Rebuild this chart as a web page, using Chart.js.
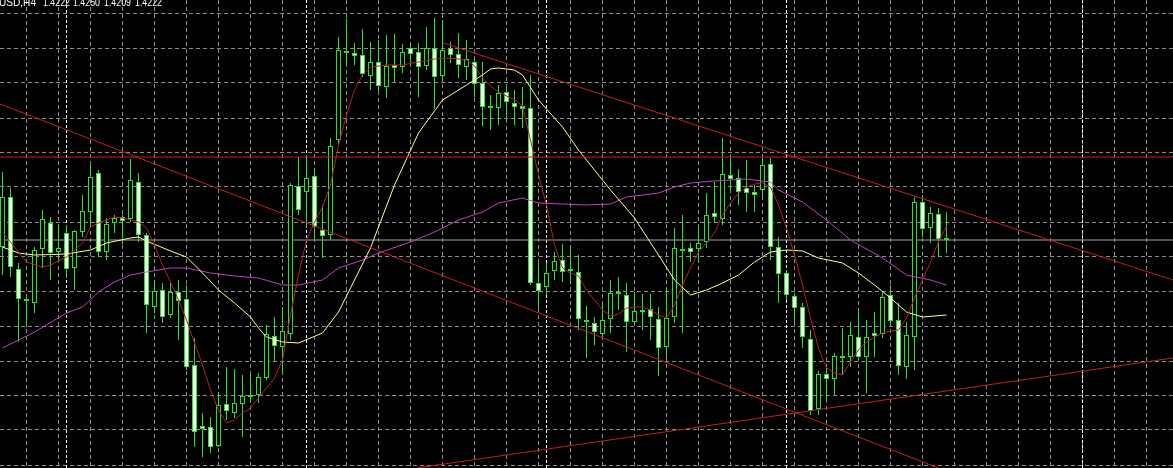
<!DOCTYPE html>
<html>
<head>
<meta charset="utf-8">
<script src="https://cdn.jsdelivr.net/npm/chart.js@4.4.0/dist/chart.umd.min.js"></script>
<style>
  html, body { margin: 0; padding: 0; background: #000; overflow: hidden; }
</style>
</head>
<body>
<canvas id="chart" width="1173" height="468"></canvas>
<script>
// H4 candles, oldest first
const opens = [1.4215,1.4265,1.4193,1.4161,1.4159,1.4213,1.4239,1.4210,1.4229,1.4194,
  1.4230,1.4250,1.4289,1.4210,1.4239,1.4245,1.4243,1.4280,1.4227,1.4155,
  1.4172,1.4147,1.4170,1.4163,1.4097,1.4036,1.4035,1.4016,1.4058,1.4049,
  1.4058,1.4067,1.4067,1.4084,1.4126,1.4115,1.4128,1.4276,1.4270,1.4286,
  1.4232,1.4227,1.4322,1.4409,1.4409,1.4407,1.4386,1.4400,1.4375,1.4397,
  1.4395,1.4414,1.4410,1.4396,1.4414,1.4386,1.4414,1.4408,1.4395,1.4400,
  1.4379,1.4355,1.4354,1.4370,1.4359,1.4356,1.4354,1.4179,1.4175,1.4191,
  1.4202,1.4191,1.4190,1.4141,1.4139,1.4128,1.4143,1.4170,1.4167,1.4140,
  1.4150,1.4153,1.4143,1.4115,1.4145,1.4212,1.4214,1.4213,1.4220,1.4249,
  1.4243,1.4287,1.4284,1.4274,1.4270,1.4272,1.4298,1.4215,1.4189,1.4166,
  1.4155,1.4123,1.4053,1.4088,1.4083,1.4105,1.4105,1.4125,1.4105,1.4129,
  1.4128,1.4167,1.4142,1.4095,1.4125,1.4260,1.4234,1.4248,1.4222];
const highs = [1.4290,1.4274,1.4199,1.4165,1.4215,1.4252,1.4245,1.4237,1.4237,1.4232,
  1.4267,1.4297,1.4292,1.4244,1.4247,1.4247,1.4303,1.4289,1.4229,1.4182,
  1.4179,1.4179,1.4182,1.4177,1.4124,1.4049,1.4045,1.4070,1.4095,1.4093,
  1.4087,1.4088,1.4089,1.4137,1.4145,1.4155,1.4279,1.4305,1.4307,1.4293,
  1.4257,1.4324,1.4425,1.4443,1.4419,1.4433,1.4420,1.4422,1.4427,1.4428,
  1.4418,1.4420,1.4419,1.4435,1.4444,1.4442,1.4420,1.4429,1.4422,1.4404,
  1.4400,1.4367,1.4377,1.4375,1.4372,1.4375,1.4387,1.4199,1.4199,1.4210,
  1.4218,1.4214,1.4207,1.4156,1.4145,1.4159,1.4182,1.4185,1.4179,1.4170,
  1.4168,1.4168,1.4155,1.4174,1.4234,1.4247,1.4219,1.4234,1.4269,1.4280,
  1.4324,1.4307,1.4293,1.4302,1.4277,1.4304,1.4304,1.4225,1.4192,1.4169,
  1.4159,1.4132,1.4091,1.4095,1.4109,1.4134,1.4140,1.4150,1.4142,1.4150,
  1.4170,1.4177,1.4159,1.4140,1.4265,1.4267,1.4255,1.4254,1.4250];
const lows = [1.4187,1.4185,1.4120,1.4135,1.4149,1.4194,1.4182,1.4202,1.4184,1.4172,
  1.4225,1.4237,1.4205,1.4202,1.4229,1.4218,1.4240,1.4220,1.4129,1.4149,
  1.4139,1.4144,1.4122,1.4092,1.4015,1.4005,1.4009,1.4015,1.4042,1.4044,
  1.4025,1.4060,1.4059,1.4082,1.4100,1.4087,1.4122,1.4247,1.4234,1.4222,
  1.4204,1.4222,1.4317,1.4397,1.4397,1.4385,1.4372,1.4371,1.4364,1.4380,
  1.4389,1.4399,1.4365,1.4392,1.4353,1.4380,1.4399,1.4384,1.4382,1.4365,
  1.4336,1.4332,1.4337,1.4341,1.4337,1.4334,1.4177,1.4154,1.4167,1.4182,
  1.4180,1.4178,1.4132,1.4104,1.4117,1.4124,1.4129,1.4152,1.4110,1.4137,
  1.4132,1.4122,1.4086,1.4105,1.4139,1.4129,1.4200,1.4200,1.4214,1.4240,
  1.4237,1.4272,1.4257,1.4250,1.4250,1.4262,1.4202,1.4159,1.4162,1.4140,
  1.4114,1.4047,1.4047,1.4062,1.4067,1.4087,1.4095,1.4102,1.4069,1.4105,
  1.4124,1.4137,1.4087,1.4083,1.4092,1.4225,1.4219,1.4205,1.4209];
const closes = [1.4265,1.4195,1.4163,1.4162,1.4212,1.4243,1.4209,1.4214,1.4193,1.4231,
  1.4251,1.4285,1.4210,1.4238,1.4244,1.4241,1.4282,1.4227,1.4157,1.4171,
  1.4145,1.4170,1.4161,1.4095,1.4030,1.4033,1.4015,1.4057,1.4051,1.4059,
  1.4066,1.4065,1.4085,1.4128,1.4116,1.4131,1.4277,1.4252,1.4284,1.4235,
  1.4226,1.4316,1.4412,1.4411,1.4406,1.4388,1.4400,1.4376,1.4396,1.4394,
  1.4410,1.4408,1.4395,1.4414,1.4385,1.4412,1.4407,1.4397,1.4403,1.4378,
  1.4355,1.4354,1.4369,1.4360,1.4355,1.4353,1.4179,1.4171,1.4189,1.4201,
  1.4190,1.4192,1.4143,1.4140,1.4130,1.4142,1.4169,1.4168,1.4140,1.4151,
  1.4151,1.4145,1.4114,1.4144,1.4214,1.4211,1.4210,1.4219,1.4247,1.4245,
  1.4288,1.4283,1.4270,1.4269,1.4267,1.4297,1.4215,1.4188,1.4167,1.4154,
  1.4125,1.4051,1.4088,1.4083,1.4106,1.4104,1.4127,1.4105,1.4125,1.4126,
  1.4165,1.4141,1.4096,1.4127,1.4260,1.4233,1.4249,1.4223,1.4222];

// moving averages, read at bar positions
const fastMaIdx = [0,3,5,6,8,10,11,12,14,15,17,18,19,20,21,22,23,24,25,26,27,28,29,30,31,32,33,34,35,36,37,38,39,40,41,42,43,44,45,46,48,50,52,54,56,58,59,60,61,62,63,64,65,66,67,68,69,70,71,72,73,74,75,76,77,78,79,80,81,82,83,84,85,86,87,88,89,90,91,92,93,94,95,96,97,98,99,100,101,102,103,104,105,106,107,108,109,110,111,112,113,114,115,116,117,118];
const fastMaVal = [1.4230,1.4200,1.4195,1.4197,1.4205,1.4219,1.4235,1.4239,1.4245,1.4244,1.4240,1.4234,1.4217,1.4197,1.4180,1.4162,1.4142,1.4119,1.4097,1.4072,1.4052,1.4039,1.4042,1.4049,1.4054,1.4064,1.4074,1.4084,1.4102,1.4147,1.4187,1.4222,1.4240,1.4255,1.4277,1.4317,1.4347,1.4372,1.4387,1.4395,1.4397,1.4397,1.4400,1.4403,1.4404,1.4402,1.4396,1.4384,1.4376,1.4370,1.4366,1.4362,1.4356,1.4322,1.4287,1.4257,1.4217,1.4194,1.4189,1.4186,1.4172,1.4162,1.4152,1.4146,1.4148,1.4154,1.4155,1.4155,1.4152,1.4147,1.4144,1.4157,1.4177,1.4194,1.4210,1.4219,1.4229,1.4247,1.4259,1.4269,1.4275,1.4278,1.4279,1.4275,1.4257,1.4234,1.4207,1.4177,1.4144,1.4114,1.4094,1.4089,1.4087,1.4100,1.4112,1.4120,1.4125,1.4129,1.4131,1.4132,1.4144,1.4164,1.4182,1.4200,1.4220,1.4236];

const midMaIdx = [0,2,4,8,11,13,16,17,18,21,23,25,27,29,31,32,33,35,37,40,42,46,49,52,55,58,60,61,62,64,65,67,70,72,76,79,82,84,86,88,90,92,94,96,98,100,102,105,107,109,111,113,115,118];
const midMaVal = [1.4215,1.4209,1.4207,1.4208,1.4212,1.4219,1.4224,1.4225,1.4221,1.4211,1.4205,1.4189,1.4172,1.4159,1.4145,1.4134,1.4125,1.4120,1.4119,1.4129,1.4150,1.4214,1.4277,1.4329,1.4362,1.4377,1.4387,1.4393,1.4394,1.4392,1.4387,1.4362,1.4335,1.4312,1.4272,1.4244,1.4207,1.4182,1.4167,1.4172,1.4179,1.4187,1.4200,1.4210,1.4212,1.4211,1.4204,1.4199,1.4189,1.4177,1.4164,1.4150,1.4145,1.4147];

const slowMaIdx = [0,4,8,10,12,14,16,18,21,23,26,29,32,35,37,40,42,45,47,51,54,57,60,62,65,67,70,73,76,78,82,84,86,89,93,96,97,100,103,106,110,113,116,118];
const slowMaVal = [1.4114,1.4130,1.4149,1.4155,1.4170,1.4180,1.4187,1.4190,1.4194,1.4194,1.4189,1.4186,1.4184,1.4177,1.4177,1.4182,1.4194,1.4202,1.4209,1.4220,1.4230,1.4242,1.4250,1.4259,1.4264,1.4259,1.4258,1.4257,1.4258,1.4265,1.4269,1.4275,1.4279,1.4281,1.4283,1.4280,1.4272,1.4260,1.4242,1.4222,1.4204,1.4187,1.4182,1.4177];

// hand-drawn objects: [x0, x1] in bars, [y0, y1] in price
const trendAX = [-0.3, 146.3], trendAY = [1.4358, 1.3903];
const trendBX = [55.1, 146.3], trendBY = [1.4419, 1.4182];
const trendCX = [51.8, 146.3], trendCY = [1.3994, 1.4104];
const resistance = 1.4305;
const lastPrice = 1.4222;

const yGrid = [1.4448,1.4413,1.4379,1.4344,1.4309,1.4275,1.4240,1.4205,1.4170,1.4136,1.4101,1.4066,1.4032,1.3997];
const xGrid = [];
for (let i = 1; i < 147; i += 4) xGrid.push(i);
const separators = [8, 38, 68, 98, 135];
const titleParts = ['USD,H4', '1.4222', '1.4250', '1.4209', '1.4222'];
const titleX = [-1, 43, 73, 104, 135];
const titleW = [37, 27, 27, 27, 27];

const xMin = -0.3125, xMax = 146.3125;
const yMin = 1.3994, yMax = 1.4462;

const bars = closes.map((c, i) => i);
const wickData = bars.map(i => ({ x: i, y: [lows[i], highs[i]] }));
const bodyData = bars.map(i => ({ x: i, y: [opens[i], closes[i]] }));
const bodyFill = bars.map(i => closes[i] < opens[i] ? '#f4fff4' : '#000000');

function pts(xs, ys) { return xs.map((x, j) => ({ x: x, y: ys[j] })); }
function lineDs(data, color, order) {
  return { type: 'line', data: data, borderColor: color, borderWidth: 1, pointRadius: 0,
           tension: 0, fill: false, order: order };
}

const green = '#2ee02e';

const overlay = {
  id: 'overlay',
  beforeDatasetsDraw(chart) {
    const { ctx, chartArea, scales } = chart;
    ctx.save();
    ctx.strokeStyle = '#ffffff';
    ctx.lineWidth = 1;
    ctx.setLineDash([3, 2]);
    separators.forEach(i => {
      const px = Math.floor(scales.x.getPixelForValue(i)) + 0.5;
      ctx.beginPath();
      ctx.moveTo(px, chartArea.top);
      ctx.lineTo(px, chartArea.bottom);
      ctx.stroke();
    });
    ctx.restore();
  },
  afterDraw(chart) {
    const ctx = chart.ctx;
    ctx.save();
    ctx.fillStyle = '#ffffff';
    ctx.font = '11px "Liberation Sans", Arial, sans-serif';
    ctx.textBaseline = 'alphabetic';
    titleParts.forEach((t, i) => ctx.fillText(t, titleX[i], 6, titleW[i]));
    ctx.restore();
  }
};

new Chart(document.getElementById('chart'), {
  type: 'bar',
  data: {
    datasets: [
      lineDs(pts(trendAX, trendAY), '#c81e1e', 2),
      lineDs(pts(trendBX, trendBY), '#c81e1e', 2),
      lineDs(pts(trendCX, trendCY), '#c81e1e', 2),
      lineDs(pts([xMin, xMax], [resistance, resistance]), '#c81e1e', 2),
      lineDs(pts(fastMaIdx, fastMaVal), '#b82020', 3),
      lineDs(pts(midMaIdx, midMaVal), '#ffff90', 4),
      lineDs(pts(slowMaIdx, slowMaVal), '#c040c0', 5),
      { type: 'bar', data: bodyData, backgroundColor: bodyFill, borderColor: green,
        borderWidth: 1, borderSkipped: false, barThickness: 5, minBarLength: 2,
        inflateAmount: 0, grouped: false, order: 8 },
      { type: 'bar', data: wickData, backgroundColor: green, borderWidth: 0,
        barThickness: 1, inflateAmount: 0, grouped: false, order: 9 },
      lineDs(pts([xMin, xMax], [lastPrice, lastPrice]), '#a4a4a4', 10)
    ]
  },
  options: {
    responsive: false,
    animation: false,
    devicePixelRatio: 1,
    layout: { padding: 0 },
    plugins: { legend: { display: false }, tooltip: { enabled: false } },
    scales: {
      x: {
        type: 'linear', min: xMin, max: xMax, offset: false,
        afterBuildTicks: s => { s.ticks = xGrid.map(v => ({ value: v })); },
        ticks: { display: false },
        grid: { color: '#8a8a8a', lineWidth: 1, drawTicks: false },
        border: { display: false, dash: [4, 3] }
      },
      y: {
        type: 'linear', min: yMin, max: yMax,
        afterBuildTicks: s => { s.ticks = yGrid.map(v => ({ value: v })); },
        ticks: { display: false },
        grid: { color: '#8a8a8a', lineWidth: 1, drawTicks: false },
        border: { display: false, dash: [4, 3] }
      }
    }
  },
  plugins: [overlay]
});
</script>
</body>
</html>
